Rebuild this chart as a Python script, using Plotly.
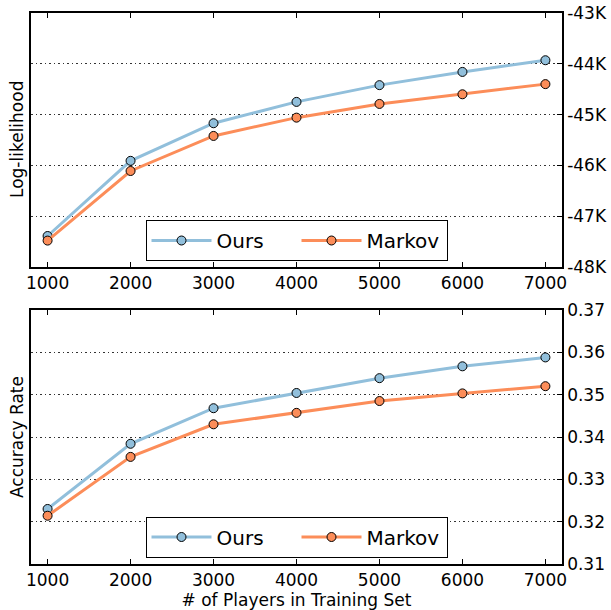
import plotly.graph_objects as go

players = [1000, 2000, 3000, 4000, 5000, 6000, 7000]
ll_ours = [-47390, -45910, -45170, -44750, -44420, -44160, -43930]
ll_markov = [-47480, -46110, -45420, -45060, -44790, -44600, -44400]
acc_ours = [0.3230, 0.3384, 0.3468, 0.3504, 0.3539, 0.3567, 0.3588]
acc_markov = [0.3214, 0.3353, 0.3430, 0.3457, 0.3485, 0.3503, 0.3520]

x_ticks = [1000, 2000, 3000, 4000, 5000, 6000, 7000]
ll_tickvals = [-48000, -47000, -46000, -45000, -44000, -43000]
ll_ticktext = ["-48K", "-47K", "-46K", "-45K", "-44K", "-43K"]
acc_tickvals = [0.31, 0.32, 0.33, 0.34, 0.35, 0.36, 0.37]
acc_ticktext = ["0.31", "0.32", "0.33", "0.34", "0.35", "0.36", "0.37"]

series_names = ["Ours", "Markov"]
colors = ["#91bfdb", "#fc8d59"]

W, H = 611, 610
FONT = "DejaVu Sans"

fig = go.Figure()

def add_pair(ys, xaxis, yaxis, legend):
    for name, y, c in zip(series_names, ys, colors):
        fig.add_trace(go.Scatter(
            x=players, y=y, name=name, mode="lines+markers",
            xaxis=xaxis, yaxis=yaxis, legend=legend,
            line=dict(color=c, width=3),
            marker=dict(size=9, color=c, line=dict(color="black", width=1)),
        ))

add_pair([ll_ours, ll_markov], "x", "y", "legend")
add_pair([acc_ours, acc_markov], "x2", "y2", "legend2")

xdom = [31 / W, 562 / W]
ydom1 = [1 - 267 / H, 1 - 13 / H]
ydom2 = [1 - 564 / H, 1 - 310 / H]

common_x = dict(
    domain=xdom, range=[800, 7200], tickvals=x_ticks, automargin=False,
    ticks="inside", ticklen=5, tickcolor="black", mirror="ticks",
    showline=True, linecolor="black", linewidth=1.5, showgrid=False,
    zeroline=False, tickfont=dict(size=17, color="black", family=FONT),
)
common_y = dict(
    side="right", ticks="inside", ticklen=5, tickcolor="black", automargin=False,
    showline=True, linecolor="black", linewidth=1.5, mirror=True,
    showgrid=True, gridcolor="#333333", griddash="1.5px,3px", gridwidth=1,
    zeroline=False, tickfont=dict(size=17, color="black", family=FONT),
)

legend_common = dict(
    orientation="h", bordercolor="black", borderwidth=1, bgcolor="white",
    font=dict(size=20, color="black", family=FONT),
    xanchor="center", yanchor="middle", entrywidth=75, itemwidth=60,
)

fig.update_layout(
    template="none",
    width=W, height=H,
    margin=dict(l=0, r=0, t=0, b=0),
    paper_bgcolor="white", plot_bgcolor="white",
    font=dict(family=FONT, color="black", size=17),
    xaxis=dict(common_x, anchor="y"),
    yaxis=dict(common_y, domain=ydom1, range=[-48000, -43000],
               tickvals=ll_tickvals, ticktext=ll_ticktext, anchor="x"),
    xaxis2=dict(common_x, anchor="y2",
                title=dict(text="# of Players in Training Set",
                           font=dict(size=17, family=FONT))),
    yaxis2=dict(common_y, domain=ydom2, range=[0.31, 0.37],
                tickvals=acc_tickvals, ticktext=acc_ticktext, anchor="x2"),
    legend=dict(legend_common, x=296.5 / W, y=1 - 240.5 / H),
    legend2=dict(legend_common, x=296.5 / W, y=1 - 537 / H),
    annotations=[
        dict(text="Log-likelihood", textangle=-90, xref="paper", yref="paper",
             x=17 / W, y=(ydom1[0] + ydom1[1]) / 2, showarrow=False,
             xanchor="center", yanchor="middle",
             font=dict(size=17, family=FONT, color="black")),
        dict(text="Accuracy Rate", textangle=-90, xref="paper", yref="paper",
             x=17 / W, y=(ydom2[0] + ydom2[1]) / 2, showarrow=False,
             xanchor="center", yanchor="middle",
             font=dict(size=17, family=FONT, color="black")),
    ],
)

fig.write_html("out.html", config={"displayModeBar": False},
               post_script="document.body.style.margin='0';")
